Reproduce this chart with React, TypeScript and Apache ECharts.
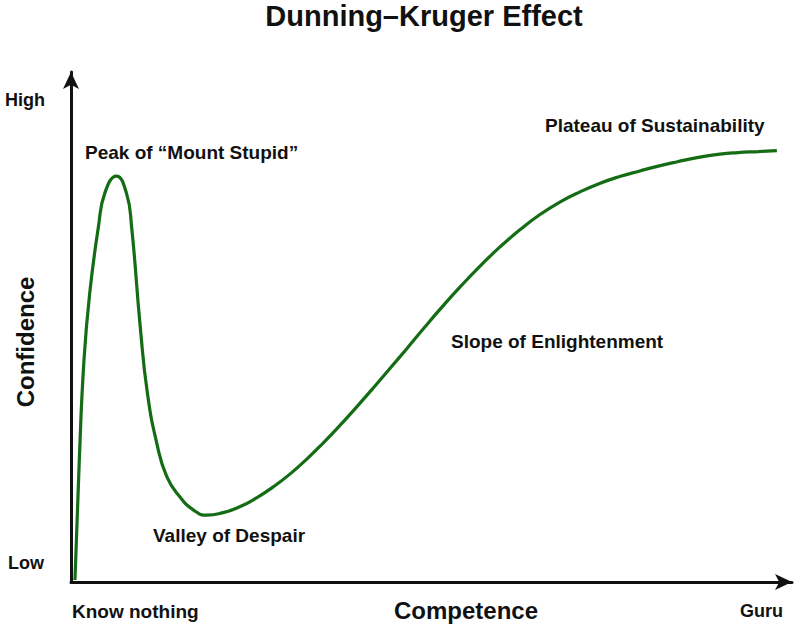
import React, { useEffect, useRef } from 'react';
import * as echarts from 'echarts';

// curve, competence (0-100) vs confidence (0-100)
const competence = [
  0.55, 1.15, 1.8, 2.6, 3.8, 4.7, 6.3, 7.7, 8.4, 9.6, 10.6, 11.9, 13.3, 15.1, 17.0,
  18.8, 21.1, 23.4, 25.8, 28.1, 30.4, 32.7, 35.0, 37.3, 39.6, 41.9, 44.2, 46.6, 48.9,
  51.2, 54.0, 56.7, 59.5, 62.3, 65.0, 67.8, 70.6, 73.4, 76.1, 78.9, 81.6, 84.1, 87.2,
  90.0, 92.5, 95.3, 97.9,
];
const confidence = [
  0.4, 23.9, 43.5, 56.7, 69.6, 76.3, 79.6, 76.2, 69.7, 50.1, 37.0, 27.2, 20.6, 16.7, 14.1,
  13.1, 13.6, 14.75, 16.55, 18.7, 21.2, 24.1, 27.3, 30.7, 34.3, 38.0, 41.8, 45.8, 49.7,
  53.5, 57.9, 61.9, 65.7, 69.1, 72.0, 74.5, 76.5, 78.2, 79.5, 80.6, 81.6, 82.4, 83.3,
  83.9, 84.2, 84.4, 84.6,
];

const stageLabels = [
  'Peak of \u201cMount Stupid\u201d',
  'Valley of Despair',
  'Slope of Enlightenment',
  'Plateau of Sustainability',
];
const axisEnds = ['Low', 'High', 'Know nothing', 'Guru'];

const FONT = '"Liberation Sans", Arial, Helvetica, sans-serif';
const INK = '#111111';

const label = (text: string, x: number, y: number, size = 19, extra: any = {}) => ({
  type: 'text',
  x,
  y,
  silent: true,
  style: {
    text,
    fill: INK,
    font: `bold ${size}px ${FONT}`,
    verticalAlign: 'middle',
    align: 'left',
    ...extra,
  },
});

const App: React.FC = () => {
  const chartRef = useRef<HTMLDivElement>(null);

  useEffect(() => {
    if (!chartRef.current) return;
    const chart = echarts.init(chartRef.current, null, { renderer: 'svg' });

    const axisLine = {
      show: true,
      symbol: ['none', 'arrow'],
      symbolSize: [12, 17],
      lineStyle: { color: INK, width: 3 },
    };

    chart.setOption({
      animation: false,
      backgroundColor: '#ffffff',
      grid: { left: 71, right: 8, top: 72, bottom: 46 },
      xAxis: {
        type: 'value',
        min: 0,
        max: 100,
        axisLine,
        axisTick: { show: false },
        axisLabel: { show: false },
        splitLine: { show: false },
      },
      yAxis: {
        type: 'value',
        min: 0,
        max: 100,
        axisLine,
        axisTick: { show: false },
        axisLabel: { show: false },
        splitLine: { show: false },
      },
      series: [
        {
          type: 'line',
          data: competence.map((c, i) => [c, confidence[i]]),
          smooth: 0.5,
          showSymbol: false,
          symbol: 'none',
          lineStyle: { color: '#146c14', width: 3.2 },
          z: 5,
        },
      ],
      graphic: [
        label('Dunning\u2013Kruger Effect', 424, 16, 29, { align: 'center' }),
        label(axisEnds[1], 5, 100, 18),
        label(axisEnds[0], 8, 563, 18),
        label(axisEnds[2], 72, 611, 19),
        label(axisEnds[3], 740, 611, 18),
        label('Competence', 466, 610, 24, { align: 'center' }),
        {
          type: 'text',
          x: 25,
          y: 342,
          rotation: Math.PI / 2,
          silent: true,
          style: {
            text: 'Confidence',
            fill: INK,
            font: `bold 24px ${FONT}`,
            align: 'center',
            verticalAlign: 'middle',
          },
        },
        label(stageLabels[0], 85, 152),
        label(stageLabels[1], 153, 535),
        label(stageLabels[2], 451, 341),
        label(stageLabels[3], 545, 125),
      ],
    });

    return () => {
      chart.dispose();
    };
  }, []);

  return (
    <div
      ref={chartRef}
      style={{ position: 'absolute', left: 0, top: 0, width: '800px', height: '628px' }}
    ></div>
  );
};

export default App;
